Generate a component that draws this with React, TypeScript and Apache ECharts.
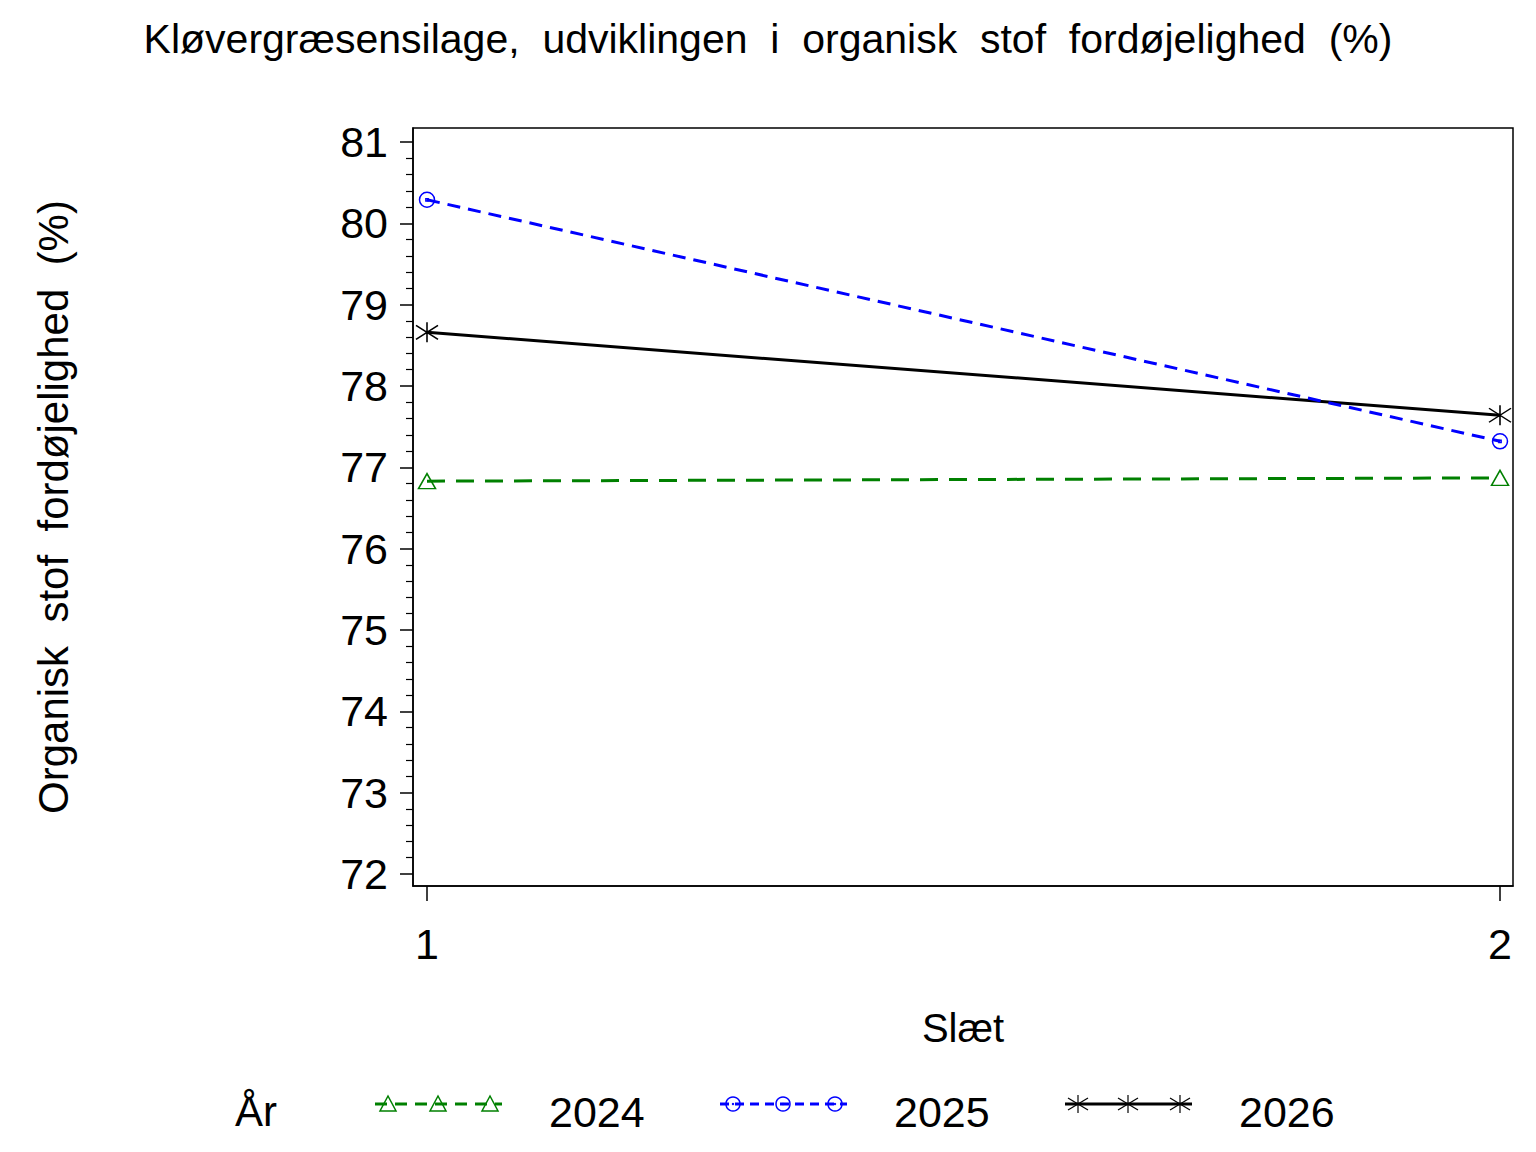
import React, { useEffect, useRef } from 'react';
import * as echarts from 'echarts';

// data
const slaet = [1, 2];
const years = ['2024', '2025', '2026'];
const values2024 = [76.83, 76.87];
const values2025 = [80.29, 77.32];
const values2026 = [78.66, 77.64];
const yMajorTicks = [72, 73, 74, 75, 76, 77, 78, 79, 80, 81];
const xTicks = [1, 2];

const FONT = '"Liberation Sans", Arial, sans-serif';
const colors = ['#008000', '#0000ff', '#000000'];
const dashes: any[] = [[18, 11], [13, 8], 'solid'];

// minor ticks every 0.2 between the major ones
const yMinorTicks: number[] = [];
yMajorTicks.slice(0, -1).forEach((v) => {
  for (let k = 1; k < 5; k++) yMinorTicks.push(Math.round((v + k * 0.2) * 10) / 10);
});

const circleDot = 'path://M0,-10A10,10,0,1,1,0,10A10,10,0,1,1,0,-10ZM-1.5,-1.5L1.5,-1.5L1.5,1.5L-1.5,1.5Z';
const star = 'path://M0,-10L0,10M-10,-7L10,7M-10,7L10,-7';
const symbols = ['triangle', circleDot, star];
const symbolSizes: any[] = [[17, 15], 15, [22, 20]];

// legend marker in graphic coordinates
const legendMarker = (i: number, cx: number, cy: number) => {
  const c = colors[i];
  if (i === 0) {
    return {
      type: 'polygon',
      shape: { points: [[cx, cy - 8], [cx - 8, cy + 7], [cx + 8, cy + 7]] },
      style: { fill: 'none', stroke: c, lineWidth: 1.5 },
    };
  }
  if (i === 1) {
    return {
      type: 'group',
      children: [
        { type: 'circle', shape: { cx, cy, r: 7 }, style: { fill: 'none', stroke: c, lineWidth: 1.5 } },
        { type: 'circle', shape: { cx, cy, r: 1.2 }, style: { fill: c } },
      ],
    };
  }
  return {
    type: 'group',
    children: [
      { type: 'line', shape: { x1: cx, y1: cy - 9, x2: cx, y2: cy + 9 }, style: { stroke: c, lineWidth: 1.2 } },
      { type: 'line', shape: { x1: cx - 10, y1: cy - 6, x2: cx + 10, y2: cy + 6 }, style: { stroke: c, lineWidth: 1.2 } },
      { type: 'line', shape: { x1: cx - 10, y1: cy + 6, x2: cx + 10, y2: cy - 6 }, style: { stroke: c, lineWidth: 1.2 } },
    ],
  };
};

const App: React.FC = () => {
  const chartRef = useRef<HTMLDivElement>(null);

  useEffect(() => {
    document.body.style.margin = '0';
    if (!chartRef.current) return;
    const chart = echarts.init(chartRef.current, null, { renderer: 'svg' });

    const seriesValues = [values2024, values2025, values2026];

    const legendItems: any[] = [
      {
        type: 'text',
        left: 235,
        top: 1090,
        style: { text: 'År', font: `42px ${FONT}`, fill: '#000' },
      },
    ];
    years.forEach((y, i) => {
      const x0 = 375 + i * 345;
      const ly = 1104;
      legendItems.push({
        type: 'line',
        shape: { x1: x0, y1: ly, x2: x0 + 127, y2: ly },
        style: {
          stroke: colors[i],
          lineWidth: 3,
          lineDash: i === 2 ? null : i === 0 ? [12, 8] : [9, 6],
        },
      });
      [13, 63, 115].forEach((dx) => legendItems.push(legendMarker(i, x0 + dx, ly)));
      legendItems.push({
        type: 'text',
        left: x0 + 174,
        top: 1090,
        style: { text: y, font: `43px ${FONT}`, fill: '#000' },
      });
    });

    chart.setOption({
      animation: false,
      backgroundColor: '#fff',
      title: {
        text: 'Kløvergræsensilage,  udviklingen  i  organisk  stof  fordøjelighed  (%)',
        left: 'center',
        top: 13,
        textStyle: { fontFamily: FONT, fontSize: 41, fontWeight: 'normal', color: '#000' },
      },
      grid: {
        left: 413,
        top: 128,
        right: 23,
        bottom: 266,
        show: true,
        borderColor: '#000',
        borderWidth: 1.5,
        backgroundColor: 'transparent',
      },
      xAxis: {
        type: 'value',
        min: 1 - 14 / 1073,
        max: 2 + 13 / 1073,
        name: 'Slæt',
        nameLocation: 'middle',
        nameGap: 122,
        nameTextStyle: { fontFamily: FONT, fontSize: 40, color: '#000' },
        axisLine: { show: true, lineStyle: { color: '#000', width: 1.5 } },
        axisTick: { show: true, customValues: xTicks, length: 15, lineStyle: { color: '#000', width: 1.5 } },
        axisLabel: {
          customValues: xTicks,
          margin: 36,
          fontFamily: FONT,
          fontSize: 43,
          color: '#000',
        },
        splitLine: { show: false },
      },
      yAxis: [
        {
          type: 'value',
          position: 'left',
          min: 72 - 12 / 81.2,
          max: 81 + 14 / 81.2,
          name: 'Organisk  stof  fordøjelighed  (%)',
          nameLocation: 'middle',
          nameGap: 339,
          nameTextStyle: { fontFamily: FONT, fontSize: 42, color: '#000' },
          axisLine: { show: true, lineStyle: { color: '#000', width: 1.5 } },
          axisTick: { show: true, customValues: yMajorTicks, length: 13, lineStyle: { color: '#000', width: 1.5 } },
          axisLabel: {
            customValues: yMajorTicks,
            margin: 25,
            fontFamily: FONT,
            fontSize: 43,
            color: '#000',
          },
          splitLine: { show: false },
        },
        {
          type: 'value',
          position: 'left',
          min: 72 - 12 / 81.2,
          max: 81 + 14 / 81.2,
          axisLine: { show: false },
          axisTick: { show: true, customValues: yMinorTicks, length: 7, lineStyle: { color: '#000', width: 1.2 } },
          axisLabel: { show: false },
          splitLine: { show: false },
        },
      ],
      series: years.map((y, i) => ({
        name: y,
        type: 'line',
        yAxisIndex: 0,
        data: slaet.map((s, j) => [s, seriesValues[i][j]]),
        symbol: symbols[i],
        symbolSize: symbolSizes[i],
        lineStyle: { color: colors[i], width: 3, type: dashes[i] },
        itemStyle: { color: 'transparent', borderColor: colors[i], borderWidth: 1.5 },
        z: 3 - i,
      })),
      graphic: legendItems,
    });

    return () => chart.dispose();
  }, []);

  return <div ref={chartRef} style={{ width: 1536, height: 1152 }} />;
};

export default App;
